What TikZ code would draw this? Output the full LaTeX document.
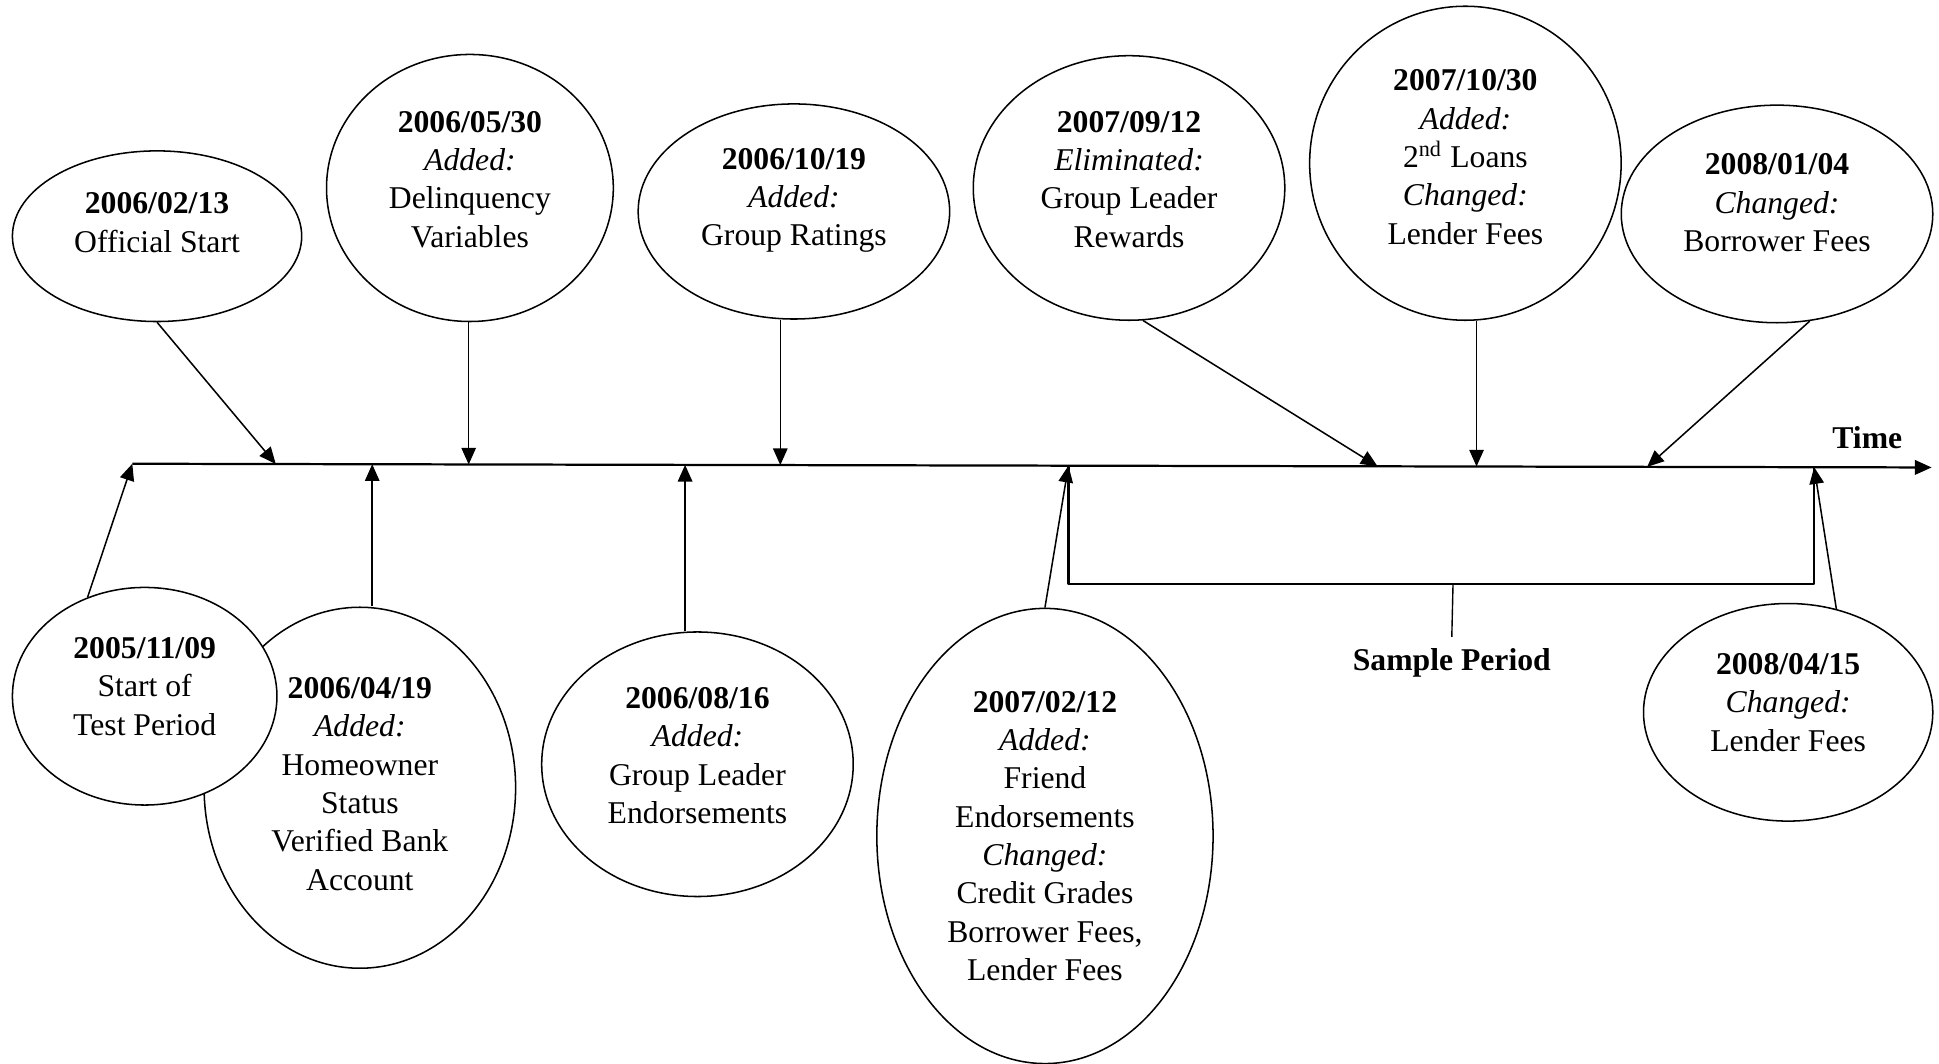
\documentclass[tikz,border=0pt]{standalone}
\usepackage{fontspec}
\setmainfont{Liberation Serif}
\usetikzlibrary{shapes.geometric,arrows.meta}
\begin{document}
\begin{tikzpicture}[x=0.445pt,y=-0.445pt,>={Triangle[length=6pt,width=5.2pt]},
	font=\fontsize{11.4}{13.8}\selectfont, line join=round,
	bubble/.style={draw,ellipse,fill=white,line width=0.55pt,inner sep=0pt},
	txt/.style={align=center,inner sep=0pt},
	conn/.style={->,line width=0.55pt}]
	\useasboundingbox (0,0) rectangle (1568,860);
	\path
	(107,375)coordinate(S)
	(1562,378)coordinate(E)
	(223,375.2)coordinate(A1)
	(379,375.6)coordinate(A2)
	(631,376.1)coordinate(A3)
	(1114,377.1)coordinate(A4)
	(1194,377.2)coordinate(A5)
	(1332,377.5)coordinate(A6)
	(301,375.4)coordinate(B8)
	(554,375.9)coordinate(B9)
	(864,376.6)coordinate(B10)
	(1467,377.8)coordinate(B11)
	(864,472)coordinate(K1)
	(1467,472)coordinate(K2)
	(1175,472)coordinate(KM)
	;
	% bubbles (e8 before e7, e7 lies on top)
	\foreach \n/\x/\y/\w/\h in {e1/127/191/104.1/61.4, e2/380/152/103.2/96.1, e3/642/171/112.1/77.4,
		e4/913/152/112.1/95.2, e5/1185/132/112.1/113.0, e6/1437/173/112.1/78.3,
		e8/291/637/112.1/129.9, e7/117/563/95.2/78.3, e9/564/618/112.1/95.2,
		e10/845/676/121.0/163.8, e11/1446/576/104.1/78.3}
		\node[bubble,minimum width=\w pt,minimum height=\h pt](\n) at (\x,\y){};
	\node[txt](d1) at (127,180){\textbf{2006/02/13}\\Official Start};
	\node[txt](d2) at (380,145){\textbf{2006/05/30}\\\textit{Added:}\\Delinquency\\Variables};
	\node[txt](d3) at (642,162){\textbf{2006/10/19}\\\textit{Added:}\\Group Ratings};
	\node[txt](d4) at (913,145){\textbf{2007/09/12}\\\textit{Eliminated:}\\Group Leader\\Rewards};
	\node[txt](d5) at (1185,127){\textbf{2007/10/30}\\\textit{Added:}\\2\textsuperscript{nd} Loans\\\textit{Changed:}\\Lender Fees};
	\node[txt](d6) at (1437,164){\textbf{2008/01/04}\\\textit{Changed:}\\Borrower Fees};
	\node[txt](d7) at (117,555){\textbf{2005/11/09}\\Start of\\Test Period};
	\node[txt](d8) at (291,634){\textbf{2006/04/19}\\\textit{Added:}\\Homeowner\\Status\\Verified Bank\\Account};
	\node[txt](d9) at (564,611){\textbf{2006/08/16}\\\textit{Added:}\\Group Leader\\Endorsements};
	\node[txt](d10) at (845,676){\textbf{2007/02/12}\\\textit{Added:}\\Friend\\Endorsements\\\textit{Changed:}\\Credit Grades\\Borrower Fees,\\Lender Fees};
	\node[txt](d11) at (1446,568){\textbf{2008/04/15}\\\textit{Changed:}\\Lender Fees};
	% time axis
	\draw[->,line width=0.8pt](S)--(E);
	\node[txt,font=\fontsize{11.4}{13.8}\selectfont\bfseries](tm) at (1510,354){Time};
	% sample period
	\draw[line width=0.85pt](B10)--(K1)--(K2)--(B11);
	\node[txt,inner sep=4pt,font=\fontsize{11.4}{13.8}\selectfont\bfseries](sp) at (1174,536){Sample Period};
	\draw[line width=0.5pt](KM)--(sp.north);
	% connectors
	\draw[conn](e1.south)--(A1);
	\draw[conn](e2.south -| A2)--(A2);
	\draw[conn](e3.south -| A3)--(A3);
	\draw[conn](e4.-84)--(A4);
	\draw[conn](e5.south -| A5)--(A5);
	\draw[conn](e6.-73)--(A6);
	\draw[conn](e7.120)--(S);
	\draw[conn](e8.north -| B8)--(B8);
	\draw[conn](e9.north -| B9)--(B9);
	\draw[conn](e10.north)--(B10);
	\draw[conn](e11.65)--(B11);
\end{tikzpicture}
\end{document}
